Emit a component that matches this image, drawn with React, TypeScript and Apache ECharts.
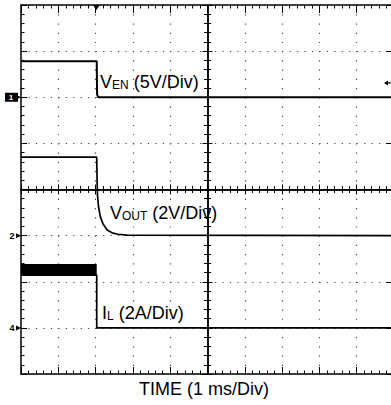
import React, { useEffect, useRef } from "react";
import * as echarts from "echarts";

// Horizontal: 1 ms per division, 10 divisions. Vertical: 8 divisions.
const timeMin = 0;
const timeMax = 10;
const divMin = 0;
const divMax = 8;

// Channel settings: units per division and ground reference (divisions from the bottom)
const venScale = 5; // V/div
const venRef = 6;
const voutScale = 2; // V/div
const voutRef = 3;
const ilScale = 2; // A/div
const ilRef = 1;

// Enable input (V)
const venTime = [0, 2.03, 2.04, 2.07, 10];
const venVolts = [3.9, 3.9, 0.3, 0, 0];

// Output voltage discharge (V)
const voutTime = [0, 2.03, 2.04, 2.05, 2.08, 2.13, 2.2, 2.31, 2.44, 2.6, 2.84, 10];
const voutVolts = [3.4, 3.4, 2.42, 1.76, 1.24, 0.8, 0.5, 0.24, 0.12, 0.06, 0.02, 0];

// Inductor current (A)
const ilTime = [0, 2.03, 2.03, 10];
const ilAmps = [2.29, 2.29, 0, 0];
// Switching ripple envelope while the converter is running
const ilRippleTime = [0, 2.03];
const ilRippleAmps = [2.29, 2.77];

// Trigger settings
const triggerTime = 2.02;
const triggerLevelVolts = 1.55;

// Channel ground markers
const channelLabels = ["1", "2", "4"];
const channelRefs = [venRef, voutRef, ilRef];

const FONT = "'Liberation Sans', Arial, Helvetica, sans-serif";
const W = 396;
const H = 405;
const GRID = { left: 21, top: 5, right: W - 394, bottom: H - 374 };

const toDiv = (t: number[], v: number[], scale: number, ref: number) =>
  t.map((x, i) => [x, ref + v[i] / scale]);

const trace = (name: string, data: number[][], width: number, extra: any = {}) => ({
  type: "line",
  name,
  data,
  symbol: "none",
  xAxisIndex: 0,
  yAxisIndex: 0,
  lineStyle: { color: "#000", width },
  z: 5,
  ...extra,
});

const dotX = { color: "#444", width: 1.2, type: [1.2, 369 / 40 - 1.2] };
const dotY = { color: "#444", width: 1.2, type: [1.2, 373 / 50 - 1.2] };

const border = { show: true, onZero: false, lineStyle: { color: "#000", width: 1.5 } };

const xAxisBase = (extra: any) => ({
  type: "value",
  gridIndex: 0,
  min: timeMin,
  max: timeMax,
  interval: 1,
  axisLabel: { show: false },
  axisLine: border,
  splitLine: { show: false },
  ...extra,
});
const yAxisBase = (extra: any) => ({
  type: "value",
  gridIndex: 0,
  min: divMin,
  max: divMax,
  interval: 1,
  axisLabel: { show: false },
  axisLine: border,
  splitLine: { show: false },
  ...extra,
});

const tick = (len: number, inside: boolean) => ({
  show: true,
  inside,
  length: len,
  lineStyle: { color: "#000", width: 1 },
});
const minor = (len: number) => ({
  show: true,
  splitNumber: 5,
  length: len,
  lineStyle: { color: "#000", width: 1 },
});

const rich = (main: string, sub: string, rest: string) => ({
  text: `{m|${main}}{s|${sub}}{m|${rest}}`,
  rich: {
    m: { fontSize: 18, fontFamily: FONT, fill: "#000", verticalAlign: "bottom" },
    s: { fontSize: 12, fontFamily: FONT, fill: "#000", verticalAlign: "bottom" },
  },
  verticalAlign: "bottom",
  align: "left",
});

export default function App() {
  const ref = useRef<HTMLDivElement>(null);

  useEffect(() => {
    if (!ref.current) return;
    const chart = echarts.init(ref.current, null, { renderer: "svg" });

    chart.setOption({
      animation: false,
      backgroundColor: "#fff",
      grid: GRID,
      xAxis: [
        // bottom border with dotted vertical divisions
        xAxisBase({
          position: "bottom",
          axisTick: tick(7, true),
          minorTick: minor(3.5),
          splitLine: { show: true, lineStyle: dotX },
        }),
        // top border
        xAxisBase({ position: "top", axisTick: tick(8, true), minorTick: minor(3.5) }),
        // centre horizontal axis, ticks on both sides
        xAxisBase({ position: "bottom", offset: -184.5, axisTick: tick(5, true), minorTick: minor(3.5) }),
        xAxisBase({ position: "bottom", offset: -184.5, axisTick: tick(5, false), minorTick: minor(3.5) }),
      ],
      yAxis: [
        // left border with dotted horizontal divisions
        yAxisBase({
          position: "left",
          axisTick: tick(6, true),
          minorTick: minor(3.5),
          splitLine: { show: true, lineStyle: dotY },
        }),
        // right border
        yAxisBase({ position: "right", axisTick: tick(8, true), minorTick: minor(3) }),
        // centre vertical axis, ticks on both sides
        yAxisBase({ position: "left", offset: -186.5, axisTick: tick(5, true), minorTick: minor(3.5) }),
        yAxisBase({ position: "left", offset: -186.5, axisTick: tick(5, false), minorTick: minor(3.5) }),
      ],
      series: [
        trace("VEN", toDiv(venTime, venVolts, venScale, venRef), 2),
        trace("VOUT", toDiv(voutTime, voutVolts, voutScale, voutRef), 1.7),
        trace("IL", toDiv(ilTime, ilAmps, ilScale, ilRef), 1.7, {
          markArea: {
            silent: true,
            itemStyle: { color: "#000", opacity: 1 },
            data: [
              [
                { coord: [ilRippleTime[0], ilRef + ilRippleAmps[0] / ilScale] },
                { coord: [ilRippleTime[1], ilRef + ilRippleAmps[1] / ilScale] },
              ],
            ],
          },
        }),
      ],
    });

    // Markers placed on the screen from the channel and trigger settings
    const px = (t: number, d: number) => chart.convertToPixel({ xAxisIndex: 0, yAxisIndex: 0 }, [t, d]) as number[];
    const graphics: any[] = [];

    channelLabels.forEach((lab, i) => {
      const y = px(0, channelRefs[i])[1];
      if (i === 0) {
        graphics.push({ type: "rect", shape: { x: 5, y: y - 4.5, width: 13, height: 9 }, style: { fill: "#000" } });
        graphics.push({
          type: "text",
          style: { text: lab, x: 11, y, align: "center", verticalAlign: "middle", fontSize: 8, fontWeight: "bold", fontFamily: FONT, fill: "#fff" },
        });
      } else {
        graphics.push({
          type: "text",
          style: { text: lab, x: 12, y, align: "center", verticalAlign: "middle", fontSize: 9, fontWeight: "bold", fontFamily: FONT, fill: "#000" },
        });
      }
      graphics.push({ type: "polygon", shape: { points: [[16, y - 2.5], [21, y], [16, y + 2.5]] }, style: { fill: "#000" } });
    });

    const trig = px(triggerTime, divMax);
    graphics.push({
      type: "polygon",
      shape: { points: [[trig[0] - 3.5, trig[1]], [trig[0] + 3.5, trig[1]], [trig[0], trig[1] + 5]] },
      style: { fill: "#000" },
    });

    const lvl = px(timeMax, venRef + triggerLevelVolts / venScale);
    graphics.push({
      type: "polygon",
      shape: { points: [[384, lvl[1]], [388, lvl[1] - 2.5], [388, lvl[1] + 2.5]] },
      style: { fill: "#000" },
    });
    graphics.push({ type: "line", shape: { x1: 387, y1: lvl[1], x2: 392, y2: lvl[1] }, style: { stroke: "#000", lineWidth: 1.2 } });

    graphics.push({ type: "text", style: { ...rich("V", "EN", " (5V/Div)"), x: 100, y: 90.5 } });
    graphics.push({ type: "text", style: { ...rich("V", "OUT", " (2V/Div)"), x: 110, y: 222.2 } });
    graphics.push({ type: "text", style: { ...rich("I", "L", " (2A/Div)"), x: 102, y: 322 } });
    graphics.push({
      type: "text",
      style: { text: "TIME (1 ms/Div)", x: 204, y: 398.3, align: "center", verticalAlign: "bottom", fontSize: 18, fontFamily: FONT, fill: "#000" },
    });

    chart.setOption({ graphic: graphics });

    return () => chart.dispose();
  }, []);

  return (
    <div style={{ position: "fixed", left: 0, top: 0, width: 391, height: 405, overflow: "hidden", background: "#fff" }}>
      <div ref={ref} style={{ width: W, height: H }} />
    </div>
  );
}
